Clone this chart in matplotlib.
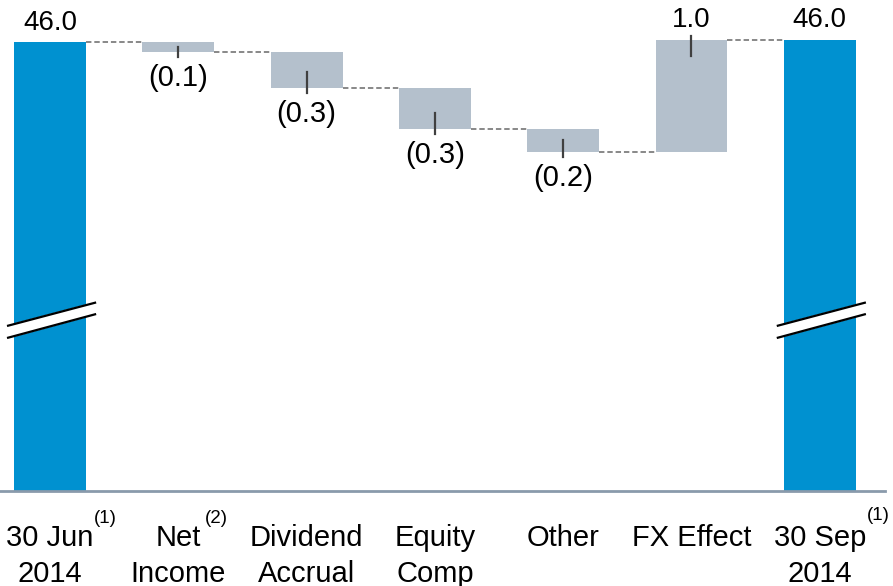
import matplotlib
matplotlib.use("Agg")
import matplotlib.pyplot as plt
import matplotlib.transforms as mtransforms
import numpy as np

plt.rcParams['font.family'] = ['Liberation Sans', 'DejaVu Sans']

# Data
categories = ["30 Jun\n2014", "Net\nIncome", "Dividend\nAccrual", "Equity\nComp",
              "Other", "FX Effect", "30 Sep\n2014"]
footnotes = ["(1)", "(2)", "", "", "", "", "(1)"]
start_value = 46.0
changes = [-0.09, -0.32, -0.36, -0.21, 1.00]
value_labels = ["46.0", "(0.1)", "(0.3)", "(0.3)", "(0.2)", "1.0", "46.0"]

# Colours
total_color = '#0091D0'
change_color = '#B4C0CC'
connector_color = '#7F7F7F'
tick_color = '#404040'
axis_color = '#8A9AAB'

# Running totals
levels = [start_value]
for c in changes:
    levels.append(levels[-1] + c)
end_value = levels[-1]

x = np.arange(len(categories))
width = 0.56

fig = plt.figure(figsize=(8.93, 5.86), dpi=100)
ax = fig.add_axes([0, 0.1626, 0.991, 0.8374])

# the axis is broken: only the top part of the scale is shown
ax.set_ylim(42.008, 46.374)
ax.set_xlim(-0.39, 6.508)

# totals
ax.bar([x[0], x[-1]], [start_value, end_value], width=width, color=total_color, zorder=2)

# floating change bars
for i, c in enumerate(changes):
    lo = min(levels[i], levels[i + 1])
    ax.bar(x[i + 1], abs(c), bottom=lo, width=width, color=change_color, zorder=2)

# connectors
for i in range(len(x) - 1):
    y = levels[i]
    ax.plot([x[i] + width / 2, x[i + 1] - width / 2], [y, y],
            color=connector_color, lw=1.3, ls=(0, (3, 1.6)), zorder=1)

# small ticks and value labels
for i, c in enumerate(changes):
    xi = x[i + 1]
    top = max(levels[i], levels[i + 1])
    bot = min(levels[i], levels[i + 1])
    mid = (top + bot) / 2
    if c < 0:
        end = bot - 0.047
        ax.plot([xi, xi], [min(bot + 0.14, mid), end], color=tick_color, lw=1.6, zorder=3)
        ax.annotate(value_labels[i + 1], (xi, end), xytext=(0, -20.7),
                    textcoords='offset points', ha='center', va='baseline', fontsize=21)
    else:
        end = top + 0.036
        ax.plot([xi, xi], [end, max(top - 0.146, mid)], color=tick_color, lw=1.6, zorder=3)
        ax.annotate(value_labels[i + 1], (xi, end), xytext=(0, 6),
                    textcoords='offset points', ha='center', va='baseline', fontsize=20)

for xi, v, lab in [(x[0], start_value, value_labels[0]), (x[-1], end_value, value_labels[-1])]:
    ax.annotate(lab, (xi, v), xytext=(0, 9), textcoords='offset points',
                ha='center', va='baseline', fontsize=20)

# break marks on the total bars
trans = mtransforms.blended_transform_factory(ax.transData, ax.transAxes)
for xi in [x[0], x[-1]]:
    xl, xr = xi - 0.327, xi + 0.351
    up = [0.3363, 0.3831]
    dn = [0.3118, 0.3595]
    ax.fill([xl, xr, xr, xl], [up[0], up[1], dn[1], dn[0]], color='white',
            transform=trans, zorder=4, clip_on=False)
    ax.plot([xl, xr], up, color='black', lw=1.6, transform=trans, zorder=5, clip_on=False)
    ax.plot([xl, xr], dn, color='black', lw=1.6, transform=trans, zorder=5, clip_on=False)

# category labels, one line at a time
for xi, lab in zip(x, categories):
    for k, line in enumerate(lab.split("\n")):
        ax.annotate(line, (xi, 0), xycoords=trans, xytext=(0, -39.5 - 25.9 * k),
                    textcoords='offset points', ha='center', va='baseline',
                    fontsize=21, annotation_clip=False)

sup_offsets = [(40, -20), (27.7, -20), None, None, None, None, (42, -17.5)]
for xi, fn, off in zip(x, footnotes, sup_offsets):
    if fn:
        ax.annotate(fn, (xi, 0), xycoords=trans, xytext=off, textcoords='offset points',
                    ha='center', va='center', fontsize=13.5, annotation_clip=False)

for s in ['top', 'left', 'right']:
    ax.spines[s].set_visible(False)
ax.spines['bottom'].set_color(axis_color)
ax.spines['bottom'].set_linewidth(2)
ax.set_xticks([])
ax.set_yticks([])

fig.savefig("out.png", dpi=100)
